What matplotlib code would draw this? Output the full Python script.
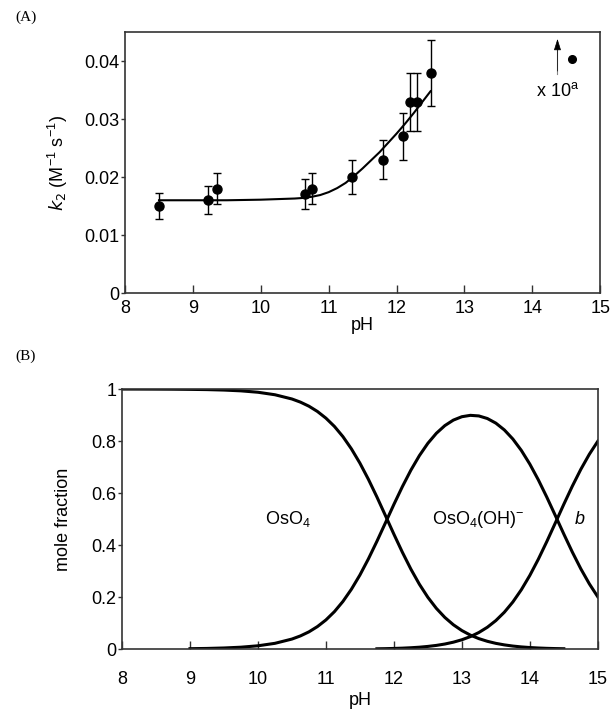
import numpy as np
import matplotlib.pyplot as plt

plt.rcParams['font.family'] = ['Liberation Sans', 'DejaVu Sans']

# (A) second-order rate constant vs pH
ph_obs = [8.5, 9.22, 9.35, 10.65, 10.75, 11.35, 11.8, 12.1, 12.2, 12.3, 12.5]
k2_obs = [0.015, 0.016, 0.018, 0.017, 0.018, 0.020, 0.023, 0.027, 0.033, 0.033, 0.038]
k2_lo = [0.0128, 0.0136, 0.0154, 0.0145, 0.0153, 0.0170, 0.0196, 0.0230, 0.0280, 0.0280, 0.0323]
k2_hi = [0.0172, 0.0184, 0.0207, 0.0196, 0.0207, 0.0230, 0.0264, 0.0310, 0.0380, 0.0380, 0.0437]

ph_fit = [8.5, 9.0, 9.5, 10.0, 10.5, 10.625, 10.75, 10.875, 11.0, 11.125, 11.25, 11.375,
          11.5, 11.625, 11.75, 11.875, 12.0, 12.125, 12.25, 12.375, 12.5]
k2_fit = [0.0160, 0.0160, 0.0160, 0.0161, 0.0163, 0.0164, 0.0166, 0.0169, 0.0174, 0.0181,
          0.0190, 0.0202, 0.0215, 0.0229, 0.0243, 0.0259, 0.0275, 0.0292, 0.0310, 0.0329,
          0.0348]

# (B) speciation of osmium(VIII)
ph_grid = [8.0, 8.25, 8.5, 8.75, 9.0, 9.25, 9.5, 9.75, 10.0, 10.25, 10.5,
           10.625, 10.75, 10.875, 11.0, 11.125, 11.25, 11.375, 11.5, 11.625, 11.75,
           11.875, 12.0, 12.125, 12.25, 12.375, 12.5, 12.625, 12.75, 12.875, 13.0,
           13.125, 13.25, 13.375, 13.5, 13.625, 13.75, 13.875, 14.0, 14.125, 14.25,
           14.375, 14.5, 14.625, 14.75, 14.875, 15.0]
x_oso4 = [0.9999, 0.9998, 0.9996, 0.9993, 0.9987, 0.9978, 0.996, 0.993, 0.9876, 0.978, 0.9617,
          0.9496, 0.934, 0.9137, 0.888, 0.8562, 0.817, 0.7699, 0.715, 0.6528, 0.585,
          0.5136, 0.4417, 0.3721, 0.3073, 0.2492, 0.1988, 0.1563, 0.1214, 0.0933, 0.0710,
          0.0535, 0.0400, 0.0297, 0.0218, 0.0159, 0.0114, 0.0081, 0.0057, 0.0039, 0.0026,
          0.0017, 0.0011, 0.0007, 0.0004, 0.0003, 0.0002]
x_oh = [0.0001, 0.0002, 0.0004, 0.0007, 0.0013, 0.0022, 0.004, 0.007, 0.0124, 0.0219, 0.0383,
        0.0504, 0.066, 0.0863, 0.1118, 0.1437, 0.1829, 0.2299, 0.2846, 0.3466, 0.4141,
        0.4849, 0.5561, 0.6246, 0.6879, 0.7438, 0.7913, 0.8298, 0.8594, 0.8805, 0.8935,
        0.8988, 0.8965, 0.8866, 0.8688, 0.8427, 0.8078, 0.7639, 0.7112, 0.6507, 0.5840,
        0.5135, 0.4422, 0.3730, 0.3086, 0.2509, 0.2007]
x_b = [0.0, 0.0, 0.0, 0.0, 0.0, 0.0, 0.0, 0.0, 0.0, 0.0, 0.0,
       0.0, 0.0, 0.0, 0.0, 0.0001, 0.0001, 0.0002, 0.0004, 0.0006, 0.0009,
       0.0014, 0.0022, 0.0033, 0.0049, 0.0070, 0.0100, 0.0139, 0.0192, 0.0263, 0.0356,
       0.0477, 0.0635, 0.0837, 0.1094, 0.1415, 0.1808, 0.2280, 0.2831, 0.3454, 0.4134,
       0.4848, 0.5567, 0.6263, 0.6910, 0.7489, 0.7991]

fig = plt.figure(figsize=(6.1, 7.09), dpi=100)
ax1 = fig.add_axes([0.205, 0.5867, 0.779, 0.368])
ax2 = fig.add_axes([0.200, 0.0846, 0.780, 0.3667])

for ax in (ax1, ax2):
    for s in ax.spines.values():
        s.set_color('#333333')
        s.set_linewidth(1.2)
    ax.tick_params(axis='x', direction='in', length=6, width=1, labelsize=13, pad=5,
                   colors='#333333', labelcolor='black')
    ax.tick_params(axis='y', direction='out', length=3, width=1, labelsize=13, pad=1,
                   colors='#333333', labelcolor='black')

# panel A
lo = np.array(k2_obs) - np.array(k2_lo)
hi = np.array(k2_hi) - np.array(k2_obs)
ax1.errorbar(ph_obs, k2_obs, yerr=[lo, hi], fmt='o', color='black', ms=6.5,
             ecolor='black', elinewidth=1, capsize=3, capthick=1)
ax1.plot(ph_fit, k2_fit, color='black', lw=1.5)
ax1.set_xlim(8, 15)
ax1.set_ylim(0, 0.045)
ax1.set_xticks(range(8, 16))
ax1.set_yticks([0, 0.01, 0.02, 0.03, 0.04])
ax1.set_yticklabels(['0', '0.01', '0.02', '0.03', '0.04'])
ax1.set_xlabel('pH', fontsize=13, labelpad=0)
ax1.set_ylabel(r'$k_2$ (M$^{\mathregular{-1}}$ s$^{\mathregular{-1}}$)', fontsize=13, labelpad=10)

ax1.annotate('', xy=(14.37, 0.0443), xytext=(14.37, 0.0378),
             arrowprops=dict(arrowstyle='-|>,head_length=0.7,head_width=0.22',
                             color='black', lw=0.5))
ax1.plot([14.37, 14.37], [0.0378, 0.0425], color='#888888', lw=0.8)
ax1.plot([14.59], [0.0403], 'o', color='black', ms=5.5)
ax1.text(14.37, 0.0348, r'x 10$^{\mathregular{a}}$', fontsize=13, ha='center', va='center')

# panel B
ax2.plot(ph_grid[:43], x_oso4[:43], color='black', lw=2.2)
ax2.plot(ph_grid[4:], x_oh[4:], color='black', lw=2.2)
ax2.plot(ph_grid[20:], x_b[20:], color='black', lw=2.2)
ax2.set_xlim(8, 15)
ax2.set_ylim(0, 1)
ax2.set_xticks(range(8, 16))
ax2.set_yticks([0, 0.2, 0.4, 0.6, 0.8, 1])
ax2.set_yticklabels(['0', '0.2', '0.4', '0.6', '0.8', '1'])
ax2.tick_params(axis='x', pad=16)
ax2.set_xlabel('pH', fontsize=13, labelpad=3)
ax2.set_ylabel('mole fraction', fontsize=13, labelpad=14)

ax2.text(10.44, 0.50, r'OsO$_{\mathregular{4}}$', fontsize=13, ha='center', va='center')
ax2.text(13.24, 0.50, r'OsO$_{\mathregular{4}}$(OH)$^{\mathregular{-}}$', fontsize=13,
         ha='center', va='center')
ax2.text(14.73, 0.50, 'b', fontsize=13, style='italic', ha='center', va='center')

fig.text(0.025, 0.975, '(A)', fontsize=11, family='Liberation Serif', va='center')
fig.text(0.025, 0.497, '(B)', fontsize=11, family='Liberation Serif', va='center')

fig.savefig('out.png', dpi=100)
